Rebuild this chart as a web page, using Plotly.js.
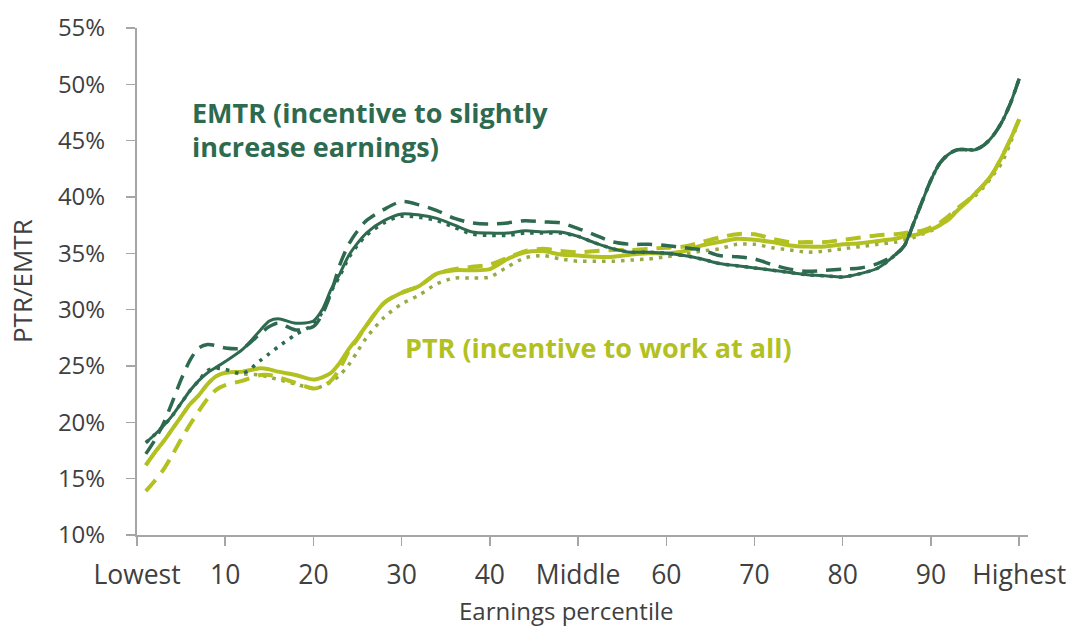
<!DOCTYPE html>
<html>
<head>
<meta charset="utf-8">
<script src="https://cdn.plot.ly/plotly-3.0.1.min.js"></script>
<style>
  html, body { margin: 0; padding: 0; background: #fff; }
  #chart { width: 1073px; height: 629px; }
</style>
</head>
<body>
<div id="chart"></div>
<script>
// Earnings percentile (x positions)
const percentile = [1,2,3,4,5,6,7,8,9,10,12,14,15,16,18,20,21,22,23,24,25,26,28,30,32,34,36,38,40,42,44,46,48,50,52,54,56,58,60,62,64,66,68,70,72,74,76,78,80,82,84,86,87,88,89,90,91,92,93,94,95,96,97,98,99,100];

// EMTR series (%)
const emtrSolid = [18.2,18.9,19.7,20.6,21.7,22.8,23.7,24.4,24.9,25.4,26.5,28.2,29.0,29.2,28.8,29.0,30.0,31.8,33.2,34.8,35.9,36.8,37.9,38.5,38.4,38.1,37.5,36.9,36.8,36.8,37.0,36.9,36.9,36.5,35.9,35.4,35.1,35.1,35.0,34.8,34.5,34.1,33.9,33.7,33.5,33.3,33.1,33.0,32.9,33.2,33.7,34.9,35.7,37.6,39.6,41.5,43.0,43.8,44.2,44.2,44.2,44.6,45.4,46.6,48.3,50.5];
const emtrDashed = [17.2,18.4,19.9,21.8,23.8,25.5,26.6,26.9,26.8,26.6,26.6,27.9,28.5,28.8,28.2,28.5,29.6,31.5,34.0,35.8,37.0,37.9,38.9,39.6,39.3,38.8,38.1,37.7,37.6,37.7,37.9,37.8,37.7,37.2,36.6,36.0,35.8,35.8,35.7,35.5,35.3,34.8,34.7,34.5,34.0,33.6,33.4,33.5,33.6,33.7,34.1,34.9,35.7,37.6,39.6,41.5,43.0,43.8,44.2,44.2,44.2,44.6,45.4,46.6,48.3,50.5];
const emtrDotted = [18.2,18.9,19.7,20.6,21.7,22.8,23.7,24.6,24.8,24.7,24.35,25.5,26.1,26.7,27.8,28.7,29.8,31.6,33.0,34.6,35.7,36.6,37.7,38.3,38.2,37.9,37.3,36.7,36.6,36.6,36.8,36.8,36.8,36.5,35.9,35.4,35.1,35.1,35.0,34.8,34.5,34.1,33.9,33.7,33.5,33.3,33.1,33.0,32.9,33.2,33.7,34.9,35.7,37.6,39.6,41.5,43.0,43.8,44.2,44.2,44.2,44.6,45.4,46.6,48.3,50.5];

// PTR series (%)
const ptrSolid = [16.2,17.3,18.3,19.4,20.5,21.6,22.4,23.4,24.1,24.4,24.5,24.8,24.7,24.5,24.2,23.8,24.0,24.4,25.3,26.5,27.5,28.6,30.6,31.5,32.1,33.2,33.5,33.5,33.6,34.5,35.1,35.2,34.9,34.8,34.7,34.7,34.9,35.0,35.0,35.2,35.7,36.0,36.3,36.2,36.0,35.7,35.6,35.6,35.8,35.9,36.1,36.3,36.5,36.6,36.8,37.1,37.5,38.0,38.8,39.5,40.3,41.1,42.1,43.5,45.1,46.9];
const ptrDashed = [13.9,14.8,15.8,17.1,18.5,19.8,21.0,22.1,22.9,23.3,23.7,24.2,24.2,24.0,23.5,23.0,23.2,23.7,24.8,26.3,27.4,28.6,30.6,31.5,32.1,33.2,33.6,33.8,34.0,34.6,35.2,35.4,35.2,35.1,35.2,35.3,35.3,35.4,35.5,35.6,36.0,36.4,36.7,36.7,36.3,36.0,36.0,36.0,36.2,36.4,36.6,36.7,36.8,36.9,37.0,37.3,37.7,38.3,39.0,39.6,40.3,41.1,42.1,43.5,45.1,46.9];
const ptrDotted = [16.2,17.3,18.3,19.4,20.5,21.6,22.4,23.4,24.1,24.4,24.3,24.2,24.0,23.8,23.4,23.0,23.2,23.6,24.2,25.1,26.3,27.5,29.3,30.5,31.3,32.3,32.8,32.8,32.9,33.8,34.6,34.8,34.5,34.3,34.3,34.3,34.4,34.5,34.7,34.9,35.2,35.4,35.8,35.8,35.5,35.3,35.1,35.2,35.4,35.6,35.8,36.0,36.2,36.4,36.7,37.0,37.5,38.1,38.9,39.6,40.1,40.9,41.9,43.0,44.8,46.9];

// Axis tick labels
const xTickVals = [0,10,20,30,40,50,60,70,80,90,100];
const xTickText = ["Lowest","10","20","30","40","Middle","60","70","80","90","Highest"];

const EMTR_COLOR = "#2d6a4f";
const PTR_COLOR = "#b2c11f";
const PTR_DOT_COLOR = "#97aa48";
const TEXT_COLOR = "#404040";
const FONT = "Open Sans, Noto Sans, sans-serif";

function line(y, color, width, dash) {
  return {
    x: percentile, y: y, type: "scatter", mode: "lines",
    line: { color: color, width: width, dash: dash, shape: "spline", smoothing: 0.8 },
    hoverinfo: "skip", showlegend: false
  };
}

const traces = [
  line(ptrDotted, PTR_DOT_COLOR, 3.5, "3.5px,6px"),
  line(ptrDashed, PTR_COLOR, 4, "15px,9px"),
  line(ptrSolid, PTR_COLOR, 4, "solid"),
  line(emtrDotted, EMTR_COLOR, 3.5, "3.5px,6px"),
  line(emtrDashed, EMTR_COLOR, 3.5, "15px,9px"),
  line(emtrSolid, EMTR_COLOR, 3, "solid")
];

const layout = {
  width: 1073, height: 629,
  margin: { l: 137, r: 45, t: 28, b: 94 },
  paper_bgcolor: "#ffffff", plot_bgcolor: "#ffffff",
  font: { family: FONT, color: TEXT_COLOR },
  xaxis: {
    range: [0, 101], fixedrange: true,
    tickmode: "array", tickvals: xTickVals, ticktext: xTickText,
    ticks: "outside", ticklen: 9, tickcolor: "#a6a6a6", tickwidth: 1.5,
    showline: true, linecolor: "#a6a6a6", linewidth: 2,
    showgrid: false, zeroline: false,
    tickfont: { size: 26.5, color: TEXT_COLOR },
    ticklabelstandoff: 6
  },
  yaxis: {
    range: [10, 55], fixedrange: true, dtick: 5, tick0: 10,
    ticksuffix: "%",
    ticks: "outside", ticklen: 9, tickcolor: "#a6a6a6", tickwidth: 1.5,
    showline: true, linecolor: "#a6a6a6", linewidth: 2,
    showgrid: false, zeroline: false,
    tickfont: { size: 24, color: TEXT_COLOR },
    ticklabelstandoff: 16
  },
  annotations: [
    { xref: "paper", yref: "paper", x: -0.129, y: 0.501, xanchor: "center", yanchor: "middle",
      textangle: -90, showarrow: false,
      text: "PTR/EMTR", font: { size: 26, color: TEXT_COLOR, family: FONT } },
    { xref: "paper", yref: "paper", x: 0.4815, y: -0.148, xanchor: "center", yanchor: "middle",
      showarrow: false,
      text: "Earnings percentile", font: { size: 24, color: TEXT_COLOR, family: FONT } },
    { xref: "x", yref: "y", x: 6.0, y: 47.5, xanchor: "left", yanchor: "middle", showarrow: false,
      text: "<b>EMTR (incentive to slightly</b>", font: { size: 27, color: EMTR_COLOR, family: FONT } },
    { xref: "x", yref: "y", x: 6.0, y: 44.5, xanchor: "left", yanchor: "middle", showarrow: false,
      text: "<b>increase earnings)</b>", font: { size: 27, color: EMTR_COLOR, family: FONT } },
    { xref: "x", yref: "y", x: 30.2, y: 26.6, xanchor: "left", yanchor: "middle", showarrow: false,
      text: "<b>PTR (incentive to work at all)</b>", font: { size: 27, color: PTR_COLOR, family: FONT } }
  ]
};

Plotly.newPlot("chart", traces, layout, { displayModeBar: false, staticPlot: true });
</script>
</body>
</html>
